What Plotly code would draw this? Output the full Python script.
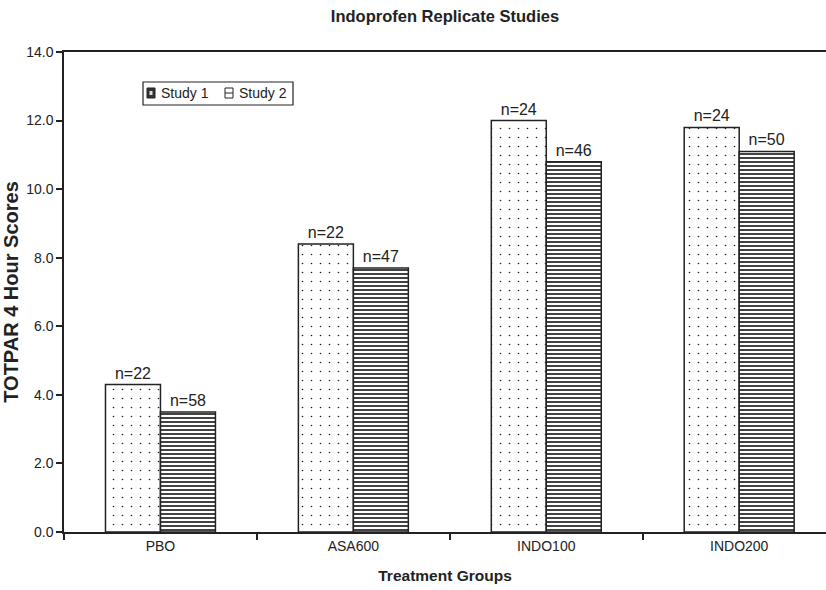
import plotly.graph_objects as go

# Treatment groups and TOTPAR 4-hour scores for the two replicate studies
groups = ["PBO", "ASA600", "INDO100", "INDO200"]
study1_scores = [4.3, 8.4, 12.0, 11.8]
study2_scores = [3.5, 7.7, 10.8, 11.1]
study1_n = [22, 22, 24, 24]
study2_n = [58, 47, 46, 50]
y_ticks = [0, 2, 4, 6, 8, 10, 12, 14]
series_names = ["Study 1", "Study 2"]

FONT = "Liberation Sans, Arial, sans-serif"
INK = "#222222"

W, H = 826, 590
M_L, M_R, M_T, M_B = 64, 0, 52, 58

fig = go.Figure()

fig.add_trace(go.Bar(
    name=series_names[0],
    x=groups,
    y=study1_scores,
    text=[f"n={n}" for n in study1_n],
    textposition="outside",
    textfont=dict(family=FONT, size=16, color=INK),
    cliponaxis=False,
    marker=dict(
        color="white",
        line=dict(color=INK, width=1.5),
        pattern=dict(shape=".", size=9, solidity=0.025,
                     fgcolor="#222222", bgcolor="white", fillmode="replace"),
    ),
))

fig.add_trace(go.Bar(
    name=series_names[1],
    x=groups,
    y=study2_scores,
    text=[f"n={n}" for n in study2_n],
    textposition="outside",
    textfont=dict(family=FONT, size=16, color=INK),
    cliponaxis=False,
    marker=dict(
        color="white",
        line=dict(color=INK, width=1.5),
        pattern=dict(shape="-", size=4, solidity=0.4,
                     fgcolor="#111111", bgcolor="white", fillmode="replace"),
    ),
))


# Compact boxed key in the upper-left corner of the plot, in pixel terms
def px_x(p):
    return (p - M_L) / (W - M_L - M_R)


def px_y(p):
    return (H - M_B - p) / (H - M_T - M_B)


shapes = [
    # key frame
    dict(type="rect", xref="paper", yref="paper",
         x0=px_x(143), x1=px_x(293), y0=px_y(105), y1=px_y(82),
         line=dict(color=INK, width=1.2), fillcolor="white", layer="above"),
    # Study 1 swatch: dark square with light speckle
    dict(type="rect", xref="paper", yref="paper",
         x0=px_x(147), x1=px_x(155), y0=px_y(98), y1=px_y(88),
         line=dict(color=INK, width=1), fillcolor="#333333", layer="above"),
    dict(type="rect", xref="paper", yref="paper",
         x0=px_x(149.5), x1=px_x(152.5), y0=px_y(95), y1=px_y(91),
         line=dict(width=0), fillcolor="#dddddd", layer="above"),
    # Study 2 swatch: outlined square with a middle rule
    dict(type="rect", xref="paper", yref="paper",
         x0=px_x(225), x1=px_x(233), y0=px_y(98), y1=px_y(88),
         line=dict(color=INK, width=1), fillcolor="white", layer="above"),
    dict(type="line", xref="paper", yref="paper",
         x0=px_x(225), x1=px_x(233), y0=px_y(93), y1=px_y(93),
         line=dict(color=INK, width=1), layer="above"),
]

annotations = [
    dict(text=series_names[0], xref="paper", yref="paper",
         x=px_x(159), y=px_y(93.5), xanchor="left", yanchor="middle",
         showarrow=False, font=dict(family=FONT, size=14, color=INK)),
    dict(text=series_names[1], xref="paper", yref="paper",
         x=px_x(237), y=px_y(93.5), xanchor="left", yanchor="middle",
         showarrow=False, font=dict(family=FONT, size=14, color=INK)),
]

fig.update_layout(
    width=W,
    height=H,
    margin=dict(l=M_L, r=M_R, t=M_T, b=M_B),
    paper_bgcolor="white",
    plot_bgcolor="white",
    barmode="group",
    bargap=0.43,
    bargroupgap=0,
    showlegend=False,
    font=dict(family=FONT, size=14, color=INK),
    title=dict(
        text="<b>Indoprofen Replicate Studies</b>",
        x=0.5, xref="paper", xanchor="center",
        y=1 - 16 / H, yref="container", yanchor="middle",
        font=dict(family=FONT, size=16.5, color=INK),
    ),
    shapes=shapes,
    annotations=annotations,
)

fig.update_xaxes(
    type="category",
    range=[-0.5, 3.45],
    tickson="boundaries",
    ticks="outside",
    ticklen=6,
    tickwidth=1.5,
    tickcolor=INK,
    showline=True,
    linecolor=INK,
    linewidth=1.5,
    mirror=True,
    showgrid=False,
    zeroline=False,
    tickfont=dict(family=FONT, size=14, color=INK),
    title=dict(text="<b>Treatment Groups</b>", standoff=18,
               font=dict(family=FONT, size=15.5, color=INK)),
)

fig.update_yaxes(
    range=[0, 14],
    tickvals=y_ticks,
    ticktext=[f"{v:.1f}" for v in y_ticks],
    ticks="outside",
    ticklen=6,
    tickwidth=1.5,
    tickcolor=INK,
    showline=True,
    linecolor=INK,
    linewidth=1.5,
    showgrid=False,
    zeroline=False,
    tickfont=dict(family=FONT, size=14, color=INK),
    title=dict(text="<b>TOTPAR 4 Hour Scores</b>", standoff=3,
               font=dict(family=FONT, size=20, color=INK)),
)

fig.write_html("out.html")
